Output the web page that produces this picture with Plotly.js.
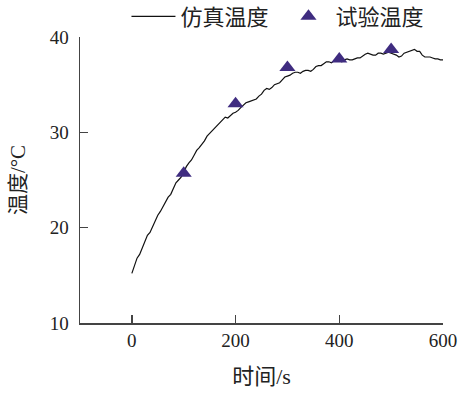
<!DOCTYPE html>
<html><head><meta charset="utf-8">
<script src="https://cdn.plot.ly/plotly-3.0.1.min.js"></script>
<style>html,body{margin:0;padding:0;background:#fff}</style>
</head><body><div id="chart" style="width:461px;height:393px"></div>
<script>
const simTime = [0,5,10,15,20,25,30,35,40,45,50,55,60,65,70,75,80,85,90,95,100,105,110,115,120,125,130,135,140,145,150,155,160,165,170,175,180,185,190,195,200,205,210,215,220,225,230,235,240,245,250,255,260,265,270,275,280,285,290,295,300,305,310,315,320,325,330,335,340,345,350,355,360,365,370,375,380,385,390,395,400,405,410,415,420,425,430,435,440,445,450,455,460,465,470,475,480,485,490,495,500,505,510,515,520,525,530,535,540,545,550,555,560,565,570,575,580,585,590,595,600];
const simTemp = [15.2,16.1,16.8,17.2,17.9,18.7,19.2,19.5,20.1,20.8,21.3,21.7,22.2,22.8,23.2,23.5,24.1,24.7,25.0,25.3,25.8,26.4,26.8,27.1,27.6,28.1,28.4,28.7,29.1,29.6,29.9,30.1,30.5,30.8,31.0,31.4,31.6,31.5,31.8,32.0,32.1,32.3,32.6,32.9,33.1,33.2,33.3,33.4,33.5,33.8,34.0,34.4,34.6,34.5,34.7,35.0,35.1,35.2,35.5,35.8,35.9,36.0,36.2,36.3,36.3,36.2,36.4,36.5,36.5,36.4,36.6,36.9,37.0,37.0,37.2,37.4,37.4,37.3,37.5,37.6,37.5,37.4,37.6,37.7,37.6,37.6,37.7,37.8,37.8,38.0,38.2,38.3,38.2,38.1,38.1,38.3,38.3,38.2,38.3,38.4,38.3,38.2,38.1,37.9,38.0,38.3,38.4,38.5,38.6,38.7,38.5,38.5,38.1,37.9,37.9,37.9,37.8,37.7,37.7,37.6,37.6];
const expTime = [100,200,300,400,500];
const expTemp = [25.7,33.0,36.8,37.7,38.7];
const xTicks = [0,200,400,600];
const yTicks = [10,20,30,40];

const fam = '"Liberation Serif", "Noto Sans CJK SC", serif';
const tickFont = {family:fam, size:19, color:'#222'};
const cjkFont = {family:fam, size:22, color:'#222'};
const data = [
  {x:simTime, y:simTemp, type:'scatter', mode:'lines', name:'仿真温度',
   line:{color:'#111', width:1.2}},
  {x:expTime, y:expTemp, type:'scatter', mode:'markers', name:'试验温度',
   marker:{symbol:'triangle-up', size:14, color:'#3f2c80'}}
];
const layout = {
  width:461, height:393,
  margin:{l:80, r:18, t:37, b:70, autoexpand:false},
  paper_bgcolor:'#fff', plot_bgcolor:'#fff',
  font:tickFont,
  showlegend:true,
  legend:{orientation:'h', x:0.128, xanchor:'left', y:1.145, yanchor:'top',
          font:cjkFont, bgcolor:'rgba(0,0,0,0)', itemwidth:44,
          entrywidth:96, entrywidthmode:'pixels'},
  xaxis:{range:[-100,600], tickvals:xTicks, ticks:'inside', ticklen:8, tickwidth:1.5,
         tickcolor:'#444', showline:true, linecolor:'#444', linewidth:1.5,
         showgrid:false, zeroline:false, title:{text:'时间/s', font:cjkFont, standoff:18},
         tickfont:tickFont},
  yaxis:{range:[10,40], tickvals:yTicks, ticks:'inside', ticklen:8, tickwidth:1.5,
         tickcolor:'#444', showline:true, linecolor:'#444', linewidth:1.5,
         showgrid:false, zeroline:false, title:{text:'温度/°C', font:{family:fam, size:21, color:'#222'}, standoff:18},
         tickfont:tickFont, ticklabelstandoff:6}
};
Plotly.newPlot('chart', data, layout, {displayModeBar:false, staticPlot:true});
</script></body></html>
